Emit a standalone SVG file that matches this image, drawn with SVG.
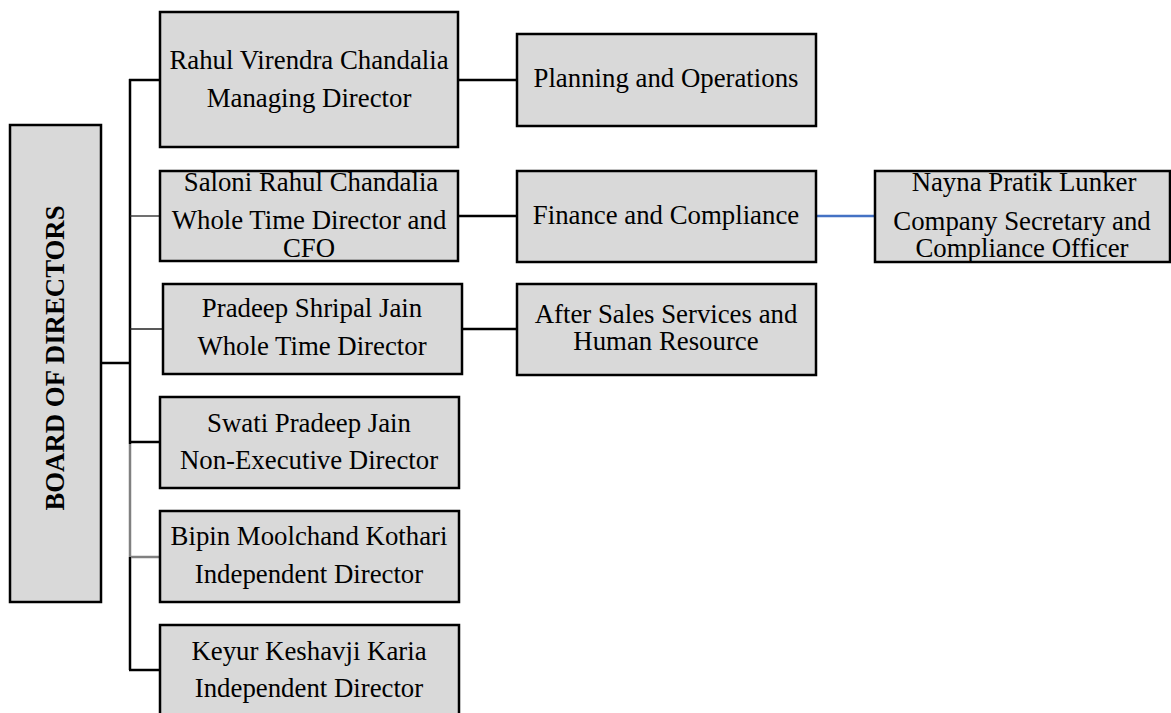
<svg xmlns="http://www.w3.org/2000/svg" width="1171" height="713" viewBox="0 0 1171 713">
<style>
.box{fill:#d9d9d9;stroke:#000;stroke-width:2.5}
.t{font-family:"Liberation Serif","Times New Roman",serif;font-size:26.8px;fill:#000;text-anchor:middle}
.b{font-weight:bold}
.k{stroke:#000;stroke-width:2.5;fill:none}
.th{stroke:#222;stroke-width:1.3;fill:none}
.g{stroke:#808080;stroke-width:2.5;fill:none}
.bl{stroke:#4472c4;stroke-width:2.5;fill:none}
</style>
<rect width="1171" height="713" fill="#fff"/>
<g id="connectors">
<line class="k" x1="101" y1="363" x2="130" y2="363"/>
<line class="k" x1="130" y1="79" x2="130" y2="444"/>
<line class="g" x1="130" y1="444" x2="130" y2="557"/>
<line class="k" x1="130" y1="557" x2="130" y2="670"/>
<line class="k" x1="129" y1="80" x2="160" y2="80"/>
<line class="th" x1="130" y1="216" x2="160" y2="216"/>
<line class="th" x1="130" y1="329" x2="163" y2="329"/>
<line class="k" x1="130" y1="442" x2="160" y2="442"/>
<line class="g" x1="131" y1="557" x2="160" y2="557"/>
<line class="k" x1="129" y1="670" x2="160" y2="670"/>
<line class="k" x1="458" y1="80" x2="517" y2="80"/>
<line class="k" x1="458" y1="216" x2="517" y2="216"/>
<line class="k" x1="462" y1="329" x2="517" y2="329"/>
<line class="bl" x1="816" y1="216" x2="875" y2="216"/>
</g>
<g id="board">
<rect class="box" x="10" y="125" width="91" height="477"/>
<text class="t b" transform="translate(64,358) rotate(-90)" font-size="28.5">BOARD OF DIRECTORS</text>
</g>
<g id="rahul">
<rect class="box" x="160" y="12" width="298" height="135"/>
<text class="t" x="309" y="69">Rahul Virendra Chandalia</text>
<text class="t" x="309" y="107">Managing Director</text>
</g>
<g id="saloni">
<rect class="box" x="160" y="171" width="298" height="90"/>
<text class="t" x="311" y="191">Saloni Rahul Chandalia</text>
<text class="t" x="309" y="229">Whole Time Director and</text>
<text class="t" x="309" y="257">CFO</text>
</g>
<g id="pradeep">
<rect class="box" x="163" y="284" width="299" height="90"/>
<text class="t" x="312" y="317">Pradeep Shripal Jain</text>
<text class="t" x="312" y="355">Whole Time Director</text>
</g>
<g id="swati">
<rect class="box" x="160" y="397" width="299" height="91"/>
<text class="t" x="309" y="432">Swati Pradeep Jain</text>
<text class="t" x="309" y="469">Non-Executive Director</text>
</g>
<g id="bipin">
<rect class="box" x="160" y="511" width="299" height="91"/>
<text class="t" x="309" y="545">Bipin Moolchand Kothari</text>
<text class="t" x="309" y="583">Independent Director</text>
</g>
<g id="keyur">
<rect class="box" x="160" y="625" width="299" height="100"/>
<text class="t" x="309" y="660">Keyur Keshavji Karia</text>
<text class="t" x="309" y="697">Independent Director</text>
</g>
<g id="planning">
<rect class="box" x="517" y="34" width="299" height="92"/>
<text class="t" x="666" y="87">Planning and Operations</text>
</g>
<g id="finance">
<rect class="box" x="517" y="171" width="299" height="91"/>
<text class="t" x="666" y="224">Finance and Compliance</text>
</g>
<g id="aftersales">
<rect class="box" x="517" y="284" width="299" height="91"/>
<text class="t" x="666" y="323">After Sales Services and</text>
<text class="t" x="666" y="350">Human Resource</text>
</g>
<g id="nayna">
<rect class="box" x="875" y="171" width="295" height="91"/>
<text class="t" x="1024" y="191">Nayna Pratik Lunker</text>
<text class="t" x="1022" y="230">Company Secretary and</text>
<text class="t" x="1022" y="257">Compliance Officer</text>
</g>
</svg>
